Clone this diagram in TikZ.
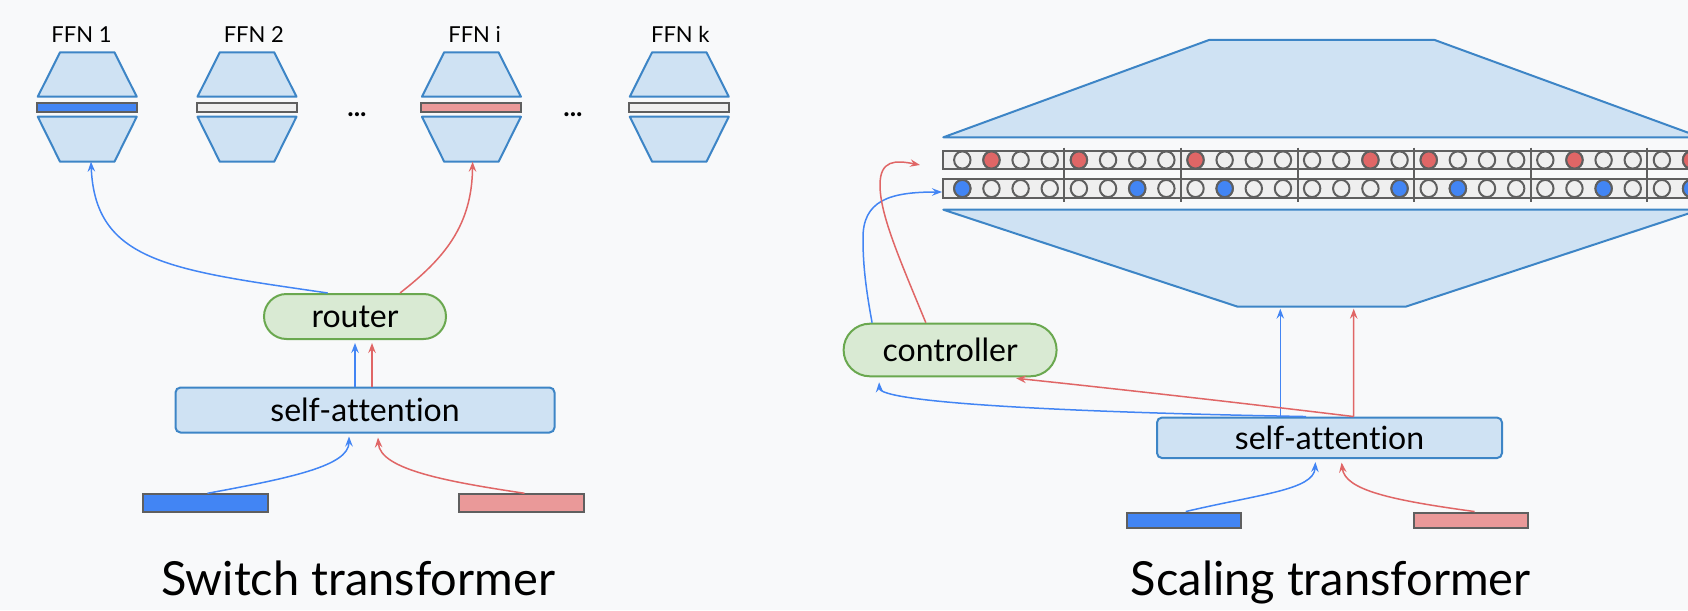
\documentclass[tikz,border=0pt]{standalone}
\usepackage{fontspec}
\setmainfont{Lato}[Ligatures=NoCommon]
\usetikzlibrary{arrows.meta,calc,shapes.misc}
\definecolor{bg}{HTML}{F8F9FA}
\definecolor{tfill}{HTML}{CFE2F3}
\definecolor{tline}{HTML}{3D85C6}
\definecolor{gfill}{HTML}{D9EAD3}
\definecolor{gline}{HTML}{6AA84F}
\definecolor{ablue}{HTML}{4285F4}
\definecolor{ared}{HTML}{E06666}
\definecolor{rbar}{HTML}{EA9999}
\definecolor{lgray}{HTML}{EFEFEF}
\definecolor{dgray}{HTML}{5F5F5F}
\begin{document}
\begin{tikzpicture}[x=1pt,y=-1pt,
  trap/.style={fill=tfill,draw=tline,line width=2pt,line join=round},
  barbox/.style={draw=dgray,line width=2pt},
  inbar/.style={draw=dgray,line width=2pt,inner sep=0pt},
  sabox/.style={fill=tfill,draw=tline,line width=2pt,rounded corners=5pt,inner sep=0pt,
    font=\fontsize{32}{38}\selectfont},
  ctrlbox/.style={rounded rectangle,fill=gfill,draw=gline,line width=2pt,inner sep=0pt,
    font=\fontsize{32}{38}\selectfont},
  ffnlabel/.style={anchor=base,inner sep=0pt,font=\fontsize{22}{26}\selectfont},
  titlelabel/.style={anchor=base,inner sep=0pt,font=\fontsize{47}{56}\selectfont},
  cell/.style={draw=dgray,line width=2pt,fill=lgray},
  sepline/.style={draw=dgray,line width=2pt},
  tipshape/.style={-{Stealth[length=10pt,width=7.5pt,inset=3.5pt]}},
  barrow/.style={draw=ablue,line width=1.5pt,tipshape},
  rarrow/.style={draw=ared,line width=1.5pt,tipshape}]
\useasboundingbox (0,0) rectangle (1688,610);
\fill[bg] (0,0) rectangle (1688,610);
\clip (0,0) rectangle (1688,610);

% ---------- Switch transformer: expert FFNs ----------
\foreach \n/\cx/\lx/\fc in {1/87.25/81.5/ablue, 2/247/253.8/lgray, i/471.4/474.6/rbar, k/679.3/680.3/lgray}{
  \node[ffnlabel] (lab\n) at (\lx,42.7) {FFN \n};
  \draw[trap] (\cx-27.2,52.3) -- (\cx+27.2,52.3) -- (\cx+49.5,96.7) -- (\cx-49.5,96.7) -- cycle;
  \draw[barbox,fill=\fc] (\cx-50,102.7) rectangle (\cx+50,111.7);
  \draw[trap] (\cx-49.5,116.7) -- (\cx+49.5,116.7) -- (\cx+27.2,161.7) -- (\cx-27.2,161.7) -- cycle;
  \coordinate (ffn\n) at (\cx,161.7);
}
\node[ffnlabel,font=\fontsize{27}{30}\bfseries] (dotsa) at (357,116.5) {...};
\node[ffnlabel,font=\fontsize{27}{30}\bfseries] (dotsb) at (573,116.5) {...};

% ---------- Switch transformer: router and attention ----------
\node[sabox,minimum width=379pt,minimum height=45pt] (sa1) at (365,410) {self-attention};
\node[ctrlbox,minimum width=182pt,minimum height=45pt] (router) at (355,316.5) {router};
\node[inbar,fill=ablue,minimum width=125pt,minimum height=18pt] (x1) at (205,503.3) {};
\node[inbar,fill=rbar,minimum width=125pt,minimum height=18pt] (x2) at (521.1,503.3) {};

\draw[barrow] ([xshift=2.5pt]x1.north) .. controls (290,478) and (349,466) .. ([xshift=-16pt,yshift=-3pt]sa1.south);
\draw[rarrow] ([xshift=3.4pt]x2.north) .. controls (450,482) and (380,470) .. ([xshift=13pt,yshift=-4pt]sa1.south);
\draw[barrow] ([xshift=-10pt]sa1.north) -- ([yshift=-3pt]router.south);
\draw[rarrow] ([xshift=7pt]sa1.north) -- ([xshift=17pt,yshift=-3pt]router.south);
\draw[barrow] ([xshift=-27.3pt]router.north) .. controls (170,270) and (95,262) .. ([xshift=3.75pt]ffn1);
\draw[rarrow] ([xshift=45pt]router.north) .. controls (445,258) and (472,225) .. ([xshift=1.2pt]ffni);

\node[titlelabel] (title1) at (358,595) {Switch transformer};

% ---------- Scaling transformer: sparse FFN ----------
\draw[trap] (943.3,137.3) -- (1209,40) -- (1434.7,40) -- (1700.7,137.3) -- cycle;
\draw[trap] (943.3,209.7) -- (1700,209.7) -- (1405.6,306.7) -- (1237.7,306.7) -- cycle;
\coordinate (ffnbig) at (1321.6,306.7);

\draw[barbox,fill=lgray] (943.3,150.7) rectangle (1720,169.3);
\draw[barbox,fill=lgray] (943.3,179.3) rectangle (1720,197.7);
\foreach \n in {0,...,27}{
  \draw[cell] (962.3+29.15*\n,160) ellipse[x radius=8.2,y radius=8.6];
  \draw[cell] (962.3+29.15*\n,188.5) ellipse[x radius=8.2,y radius=8.6];
}
\foreach \n in {1,4,8,14,16,21,25}
  \draw[cell,fill=ared] (962.3+29.15*\n,160) ellipse[x radius=8.2,y radius=8.6];
\foreach \n in {0,6,9,15,17,22,25}
  \draw[cell,fill=ablue] (962.3+29.15*\n,188.5) ellipse[x radius=8.2,y radius=8.6];
\foreach \k in {0,...,5}
  \draw[sepline] (962.3+29.15*4*\k+29.15*3.5,147.5) -- ++(0,54);
\coordinate (topin) at (920,165);
\coordinate (botin) at (942,192);

% ---------- Scaling transformer: controller and attention ----------
\node[ctrlbox,minimum width=213pt,minimum height=52.6pt] (ctrl) at (950.1,350) {controller};
\node[sabox,minimum width=345pt,minimum height=40.5pt] (sa2) at (1329.5,437.8) {self-attention};
\node[inbar,fill=ablue,minimum width=114pt,minimum height=15.5pt] (x3) at (1183.5,520.3) {};
\node[inbar,fill=rbar,minimum width=114pt,minimum height=15.5pt] (x4) at (1471.3,520.3) {};

\draw[barrow] ([xshift=2.2pt]x3.north) .. controls (1260,494) and (1314,490) .. ([xshift=-14.1pt,yshift=-3pt]sa2.south);
\draw[rarrow] ([xshift=3.3pt]x4.north) .. controls (1390,500) and (1345,490) .. ([xshift=12.1pt,yshift=-3.5pt]sa2.south);
\draw[barrow] ([xshift=-49.2pt]sa2.north) -- ([xshift=-41.3pt,yshift=-2pt]ffnbig);
\draw[rarrow] ([xshift=24.2pt]sa2.north) -- ([xshift=32.1pt,yshift=-2pt]ffnbig);
\draw[rarrow] ([xshift=24.2pt]sa2.north) .. controls (1200,398) and (1080,385) .. ([xshift=66pt,yshift=-1pt]ctrl.south);
\draw[barrow] ([xshift=-23.5pt]sa2.north) .. controls (1050,412) and (880,402) .. ([xshift=-71pt,yshift=-5pt]ctrl.south);
\draw[barrow] ([xshift=-78pt]ctrl.north) .. controls (866,290) and (863,265) .. (863,240)
  .. controls (862,200) and (890,192) .. (botin);
\draw[rarrow] ([xshift=-24.3pt]ctrl.north) .. controls (900,260) and (880,215) .. (880,185)
  .. controls (880,160) and (895,160) .. (topin);

\node[titlelabel] (title2) at (1330.7,595) {Scaling transformer};
\end{tikzpicture}
\end{document}
